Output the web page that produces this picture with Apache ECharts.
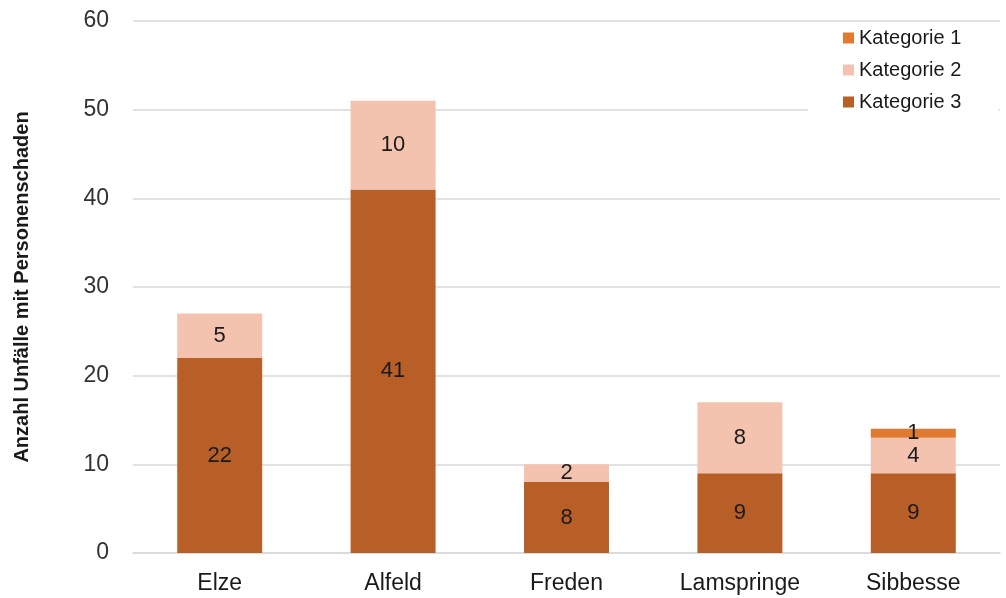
<!DOCTYPE html>
<html>
<head>
<meta charset="utf-8">
<script src="https://cdn.jsdelivr.net/npm/echarts@6/dist/echarts.min.js"></script>
<style>
  html, body { margin: 0; padding: 0; background: #fff; }
  #chart { width: 1006px; height: 598px; }
</style>
</head>
<body>
<div id="chart"></div>
<script>
// Unfälle mit Personenschaden je Gemeinde, nach Kategorie gestapelt
const categories = ['Elze', 'Alfeld', 'Freden', 'Lamspringe', 'Sibbesse'];
const kategorie3 = [22, 41, 8, 9, 9];
const kategorie2 = [5, 10, 2, 8, 4];
const kategorie1 = [null, null, null, null, 1];
const yTicks = [0, 10, 20, 30, 40, 50, 60];

const FONT = 'Liberation Sans, Arial, sans-serif';

const labelStyle = {
  show: true,
  position: 'inside',
  color: '#1a1a1a',
  fontSize: 22,
  fontFamily: FONT,
  formatter: p => (p.value == null ? '' : p.value)
};

const chart = echarts.init(document.getElementById('chart'), null, { renderer: 'canvas' });

chart.setOption({
  animation: false,
  backgroundColor: '#fff',
  grid: { left: 133, right: 6, top: 21, bottom: 45, containLabel: false },
  legend: {
    orient: 'vertical',
    left: 808,
    top: 23,
    padding: [5, 37, 8, 35],
    backgroundColor: '#fff',
    itemWidth: 11,
    itemHeight: 11,
    itemGap: 12,
    icon: 'rect',
    textStyle: { fontSize: 20, color: '#1a1a1a', fontFamily: FONT },
    data: ['Kategorie 1', 'Kategorie 2', 'Kategorie 3']
  },
  xAxis: {
    type: 'category',
    data: categories,
    axisLine: { show: true, lineStyle: { color: '#d9d9d9', width: 1.5 } },
    axisTick: { show: false },
    axisLabel: { fontSize: 23, color: '#1a1a1a', fontFamily: FONT, margin: 19 }
  },
  yAxis: {
    type: 'value',
    min: yTicks[0],
    max: yTicks[yTicks.length - 1],
    interval: 10,
    name: 'Anzahl Unfälle mit Personenschaden',
    nameLocation: 'middle',
    nameGap: 101,
    nameTextStyle: { fontSize: 20, fontWeight: 'bold', color: '#1a1a1a', fontFamily: FONT },
    axisLine: { show: false },
    axisTick: { show: false },
    axisLabel: { fontSize: 23, color: '#333333', fontFamily: FONT, margin: 24 },
    splitLine: { lineStyle: { color: '#d9d9d9', width: 1.5 } }
  },
  series: [
    {
      name: 'Kategorie 3',
      type: 'bar',
      stack: 'total',
      barWidth: '49%',
      data: kategorie3,
      itemStyle: { color: '#B85F27' },
      label: labelStyle
    },
    {
      name: 'Kategorie 2',
      type: 'bar',
      stack: 'total',
      data: kategorie2,
      itemStyle: { color: '#F4C3B0' },
      label: labelStyle
    },
    {
      name: 'Kategorie 1',
      type: 'bar',
      stack: 'total',
      data: kategorie1,
      itemStyle: { color: '#E07A30' },
      label: labelStyle
    }
  ]
});
</script>
</body>
</html>
